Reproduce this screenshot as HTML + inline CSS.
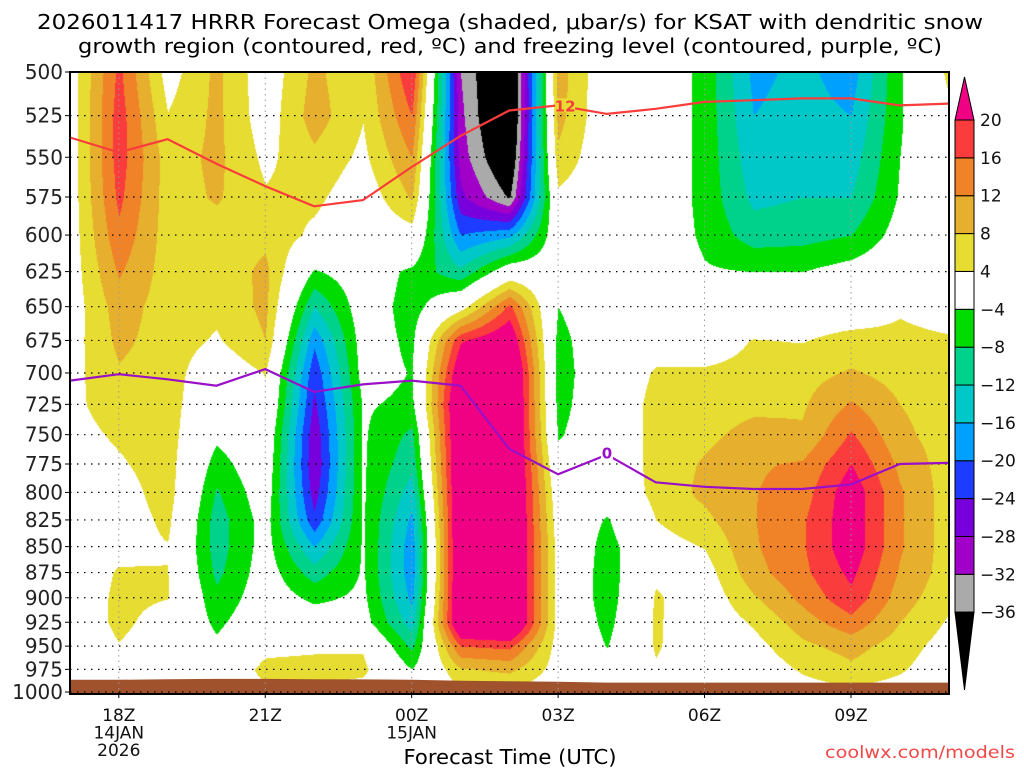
<!DOCTYPE html>
<html><head><meta charset="utf-8">
<style>
html,body{margin:0;padding:0;background:#fff;}
#wrap{position:relative;width:1024px;height:768px;overflow:hidden;font-family:"DejaVu Sans","Liberation Sans",sans-serif;}
#omega-canvas{position:absolute;left:70px;top:72px;}
#overlay{position:absolute;left:0;top:0;}
</style></head>
<body>
<div id="wrap">
<canvas id="omega-canvas" width="879" height="621"></canvas>
<svg id="overlay" width="1024" height="768" xmlns="http://www.w3.org/2000/svg">
<text x="510" y="29" text-anchor="middle" font-size="20" textLength="946" lengthAdjust="spacingAndGlyphs">2026011417 HRRR Forecast Omega (shaded, μbar/s) for KSAT with dendritic snow</text>
<text x="510" y="53" text-anchor="middle" font-size="20" textLength="864" lengthAdjust="spacingAndGlyphs">growth region (contoured, red, ºC) and freezing level (contoured, purple, ºC)</text>
<g id="ground"></g>
<g id="grid"></g>
<g id="lines"></g>
<g id="yaxis"></g>
<g id="xaxis"></g>
<rect x="70" y="72" width="879" height="622" fill="none" stroke="#000" stroke-width="2"/>
<g id="cbar"></g>
<text x="510" y="764" text-anchor="middle" font-size="20" textLength="213" lengthAdjust="spacingAndGlyphs">Forecast Time (UTC)</text>
<text x="1015" y="758" text-anchor="end" font-size="17" fill="#f04848" textLength="190" lengthAdjust="spacingAndGlyphs">coolwx.com/models</text>
</svg>
</div>
<script>
// ---- data ----
const hours = ["17Z","18Z","19Z","20Z","21Z","22Z","23Z","00Z","01Z","02Z","03Z","04Z","05Z","06Z","07Z","08Z","09Z","10Z","11Z"];
const pressureLevels = [500,525,550,575,600,625,650,675,700,725,750,775,800,825,850,875,900,925,950,975,1000];
// omega (μbar/s) per hour, top (500) to bottom (1000)
const omega17Z = [1.5,1.5,1.5,1.5,1.5,1.5,1.5,2,2.5,3,2.5,2,1,0.5,0.5,0.5,0.5,0.5,0.5,0,0];
const omega18Z = [17,18,18,17,15,12.5,10,9,7.5,6,4.6,3.5,2,1.5,2.5,4.5,5,5,3.8,2,1];
const omega19Z = [2,4.2,6,6,6,6,6,6,6,6,6,6,6,5,3.8,4.1,4.1,2,1,0,0];
const omega20Z = [9,9,9,8.5,6,5.5,5,3.5,0.5,-1,-3,-6,-8.5,-10,-10,-9,-7,-5,-3,-1,0];
const omega21Z = [1,1.5,3,4.5,7,9,9,8,4.2,3,1,0,-1,-2,-2,-1.5,-1,0,2.5,5.5,3];
const omega22Z = [9,10,7,5,3,-4.5,-12,-19,-23,-25,-27,-27.5,-26,-23,-16,-10,-5,-1,3,6,3];
const omega23Z = [4.5,4.2,3,1,0,-1,-1,-1.5,-2,-3.5,-3.5,-3.5,-3.5,-3.5,-3.5,-3.5,-3,-2,3.5,5,2];
const omega00Z = [20,16,12,8.5,2,-5,-6,-5,-4.2,-5,-9,-11,-14,-17,-18.5,-18.5,-17,-14,-9,-4,-1];
const omega01Z = [-32,-31,-30,-27,-20,-11,2,19.5,25,28,28,28,28,28,28,28,28,28,16,7.5,3];
const omega02Z = [-45,-45,-42,-36.5,-17,0,17,25,30,30,30,30,30,30,30,30,30,30,17,9,3];
const omega03Z = [10,9.5,7,3,0,-1,-4,-5.5,-6,-5.5,-4.5,-2,0,1,2,2,2,2,2,2,1];
const omega04Z = [0,0,0,0,0,0,0,0,0,0,0,0,-1,-4.5,-6,-6.5,-6.5,-5.5,-4.2,-1,0];
const omega05Z = [0,0,0,0,0,0,0,2,4.5,5.5,5.5,5.5,5.5,4,2,3,4.6,4.6,4.5,3.5,0];
const omega06Z = [-5.5,-5.5,-5.5,-5.5,-5,-3.5,0,2,4.5,6,7,8.5,9,7,4.2,2,1,0.5,0.5,0,0];
const omega07Z = [-17,-16,-14.5,-13,-10,-4,0,4.2,5,7,9.5,11.5,11.8,11.8,11.5,10.5,7.5,4.5,2.5,1,0];
const omega08Z = [-15,-14.5,-13.5,-12,-9.5,-4,1,3.8,6.5,7.5,8.5,12.5,14,15.5,15.5,15,13,10,7,4.5,2];
const omega09Z = [-18,-16,-14,-12,-8,-2,1,5.5,8.5,12.5,16.5,20,23,23,23,21,19,14.5,9.5,7,3];
const omega10Z = [-4.5,-4.5,-4,-3.5,-2,0,3.5,5,6.5,8,9,11,12.5,12.5,12.5,11.5,10,8,6,4.5,2];
const omega11Z = [5,3,1,1,1,1,2,4.5,6,6,6,6,6,6,6,6,5,3.5,2,1,0];
const omegaColumns = [omega17Z,omega18Z,omega19Z,omega20Z,omega21Z,omega22Z,omega23Z,omega00Z,omega01Z,omega02Z,omega03Z,omega04Z,omega05Z,omega06Z,omega07Z,omega08Z,omega09Z,omega10Z,omega11Z];
// -12C dendritic growth level and 0C freezing level (hPa) per hour
const dgzMinus12 = [538,547,539,554,568,581,577,556,537,522,519,524,521,517,516,515,515,519,518];
const freezing0C = [706,701,705,710,697,715,709,706,710,762,784,767,791,795,797,797,793,775,774];
const surfacePressure = [986.5,986.5,985.8,985.5,985.5,985.8,986,986.5,987.5,988,988.5,989.5,989.5,989.5,989.5,989.5,989.5,989.5,989.5];
const contourLevels = [-36,-32,-28,-24,-20,-16,-12,-8,-4,4,8,12,16,20];
const contourColors = ["#000000","#aaaaaa","#a000c8","#7800dc","#1e3cff","#00a0ff","#00c8c8","#00d28c","#00dc00","#ffffff","#e6dc32","#e6af2d","#f08228","#fa3c3c","#f00082"];
const xTickLabels = [["18Z","14JAN","2026"],["21Z"],["00Z","15JAN"],["03Z"],["06Z"],["09Z"]];
const xTickHours = [1,4,7,10,13,16];

// ---- axes ----
const X0=70, PW=878.6, Y0=72, PH=620;
const hourPx = PW/18;
function xOf(h){return X0+h*hourPx;}
function yOf(p){return Y0+PH*Math.log(p/500)/Math.LN2;}
const NS="http://www.w3.org/2000/svg";
function mk(tag,attrs,parent){const e=document.createElementNS(NS,tag);for(const k in attrs)e.setAttribute(k,attrs[k]);parent.appendChild(e);return e;}
function hex(c){return [parseInt(c.substr(1,2),16),parseInt(c.substr(3,2),16),parseInt(c.substr(5,2),16)];}

// ---- shading ----
(function(){
  const cv=document.getElementById('omega-canvas');const ctx=cv.getContext('2d');
  const W=cv.width,H=cv.height;const img=ctx.createImageData(W,H);
  const rgb=contourColors.map(hex);
  const nT=omegaColumns.length, nP=pressureLevels.length;
  for(let py=0;py<H;py++){
    const p=500*Math.pow(2,py/PH);
    let r=(p-pressureLevels[0])/25; r=Math.max(0,Math.min(nP-1.0001,r));
    const r0=Math.floor(r), fr=r-r0;
    for(let px=0;px<W;px++){
      let t=px/hourPx; t=Math.max(0,Math.min(nT-1.0001,t));
      const t0=Math.floor(t), ft=t-t0;
      const a=omegaColumns[t0][r0],b=omegaColumns[t0+1][r0],c=omegaColumns[t0][r0+1],d=omegaColumns[t0+1][r0+1];
      const v=(a*(1-ft)+b*ft)*(1-fr)+(c*(1-ft)+d*ft)*fr;
      let i=0;while(i<contourLevels.length&&v>=contourLevels[i])i++;
      const col=rgb[i];const o=(py*W+px)*4;
      img.data[o]=col[0];img.data[o+1]=col[1];img.data[o+2]=col[2];img.data[o+3]=255;
    }
  }
  ctx.putImageData(img,0,0);
})();

// ---- ground ----
(function(){
  const g=document.getElementById('ground');
  let pts=[];
  surfacePressure.forEach((p,i)=>pts.push(xOf(i).toFixed(1)+","+yOf(p).toFixed(1)));
  pts.push(xOf(18)+","+(Y0+PH+1));pts.push(xOf(0)+","+(Y0+PH+1));
  const poly=mk('polygon',{points:pts.join(" "),fill:"#a0522d"},g);
  
  
})();

// ---- grid ----
(function(){
  const g=document.getElementById('grid');
  pressureLevels.forEach(p=>{
    const y=yOf(p);
    const l=mk('line',{x1:X0,x2:X0+PW,y1:y,y2:y,stroke:"#000","stroke-width":1.2,"stroke-dasharray":"1.5,5.5"},g);
    
    
  });
  xTickHours.forEach(h=>{
    const x=xOf(h);
    const l=mk('line',{x1:x,x2:x,y1:Y0,y2:Y0+PH,stroke:"#999","stroke-width":1,"stroke-dasharray":"1.5,4"},g);
    
    
  });
})();

// ---- temperature lines ----
(function(){
  const g=document.getElementById('lines');
  function path(arr,color,name){
    const d=arr.map((p,i)=>(i?"L":"M")+xOf(i).toFixed(1)+","+yOf(p).toFixed(1)).join("");
    const e=mk('path',{d:d,fill:"none",stroke:color,"stroke-width":2.2},g);
    
    
  }
  path(dgzMinus12,"#fa3c3c","dgz-minus12-line");
  path(freezing0C,"#9a10c8","freezing-level-line");
  const lx=xOf(10)+7, ly=yOf(dgzMinus12[10]);
  const bg=mk('rect',{x:lx-10,y:ly-7,width:20,height:14,fill:"#e6dc32"},g);
  
  
  const t1=mk('text',{x:lx,y:ly+6,"text-anchor":"middle","font-size":15,"font-weight":"bold",fill:"#fa3c3c"},g);
  t1.textContent="12";
  
  
  const fx=xOf(11), fy=yOf(freezing0C[11]);
  const bg2=mk('rect',{x:fx-6,y:fy-8,width:12,height:14,fill:"#fff"},g);
  
  
  const t2=mk('text',{x:fx,y:fy+4,"text-anchor":"middle","font-size":15,"font-weight":"bold",fill:"#9a10c8"},g);
  t2.textContent="0";
  
  
})();

// ---- y axis ----
(function(){
  const g=document.getElementById('yaxis');
  pressureLevels.forEach(p=>{
    const y=yOf(p);
    mk('line',{x1:X0-5,x2:X0,y1:y,y2:y,stroke:"#000","stroke-width":1},g);
    const t=mk('text',{x:X0-7,y:y+7,"text-anchor":"end","font-size":20,fill:"#222"},g);
    t.textContent=p;
    
    
  });
})();

// ---- x axis ----
(function(){
  const g=document.getElementById('xaxis');
  xTickHours.forEach((h,i)=>{
    const x=xOf(h);
    mk('line',{x1:x,x2:x,y1:Y0+PH,y2:Y0+PH+6,stroke:"#000","stroke-width":1},g);
    xTickLabels[i].forEach((s,k)=>{
      const t=mk('text',{x:x,y:721+k*17.5,"text-anchor":"middle","font-size":17,fill:"#111"},g);
      t.textContent=s;
      
      
    });
  });
})();

// ---- colorbar ----
(function(){
  const g=document.getElementById('cbar');
  const bx=955,bw=19,top=120,step=37.86;
  for(let i=0;i<contourLevels.length-1;i++){
    const yTop=top+(contourLevels.length-2-i)*step;
    const r=mk('rect',{x:bx,y:yTop,width:bw,height:step,fill:contourColors[i+1],stroke:"#000","stroke-width":1},g);
    
    
  }
  const bottom=top+(contourLevels.length-1)*step;
  const up=mk('polygon',{points:`${bx},${top} ${bx+bw},${top} ${bx+bw/2},77`,fill:contourColors[contourColors.length-1],stroke:"#000","stroke-width":1},g);
  
  
  const dn=mk('polygon',{points:`${bx},${bottom} ${bx+bw},${bottom} ${bx+bw/2},690`,fill:contourColors[0],stroke:"#000","stroke-width":1},g);
  
  
  contourLevels.forEach((v,i)=>{
    const y=top+(contourLevels.length-1-i)*step;
    const t=mk('text',{x:980,y:y+6,"font-size":17,fill:"#111"},g);
    t.textContent=(v<0?"\u2212":"")+Math.abs(v);
    
    
  });
})();
</script>
</body></html>
